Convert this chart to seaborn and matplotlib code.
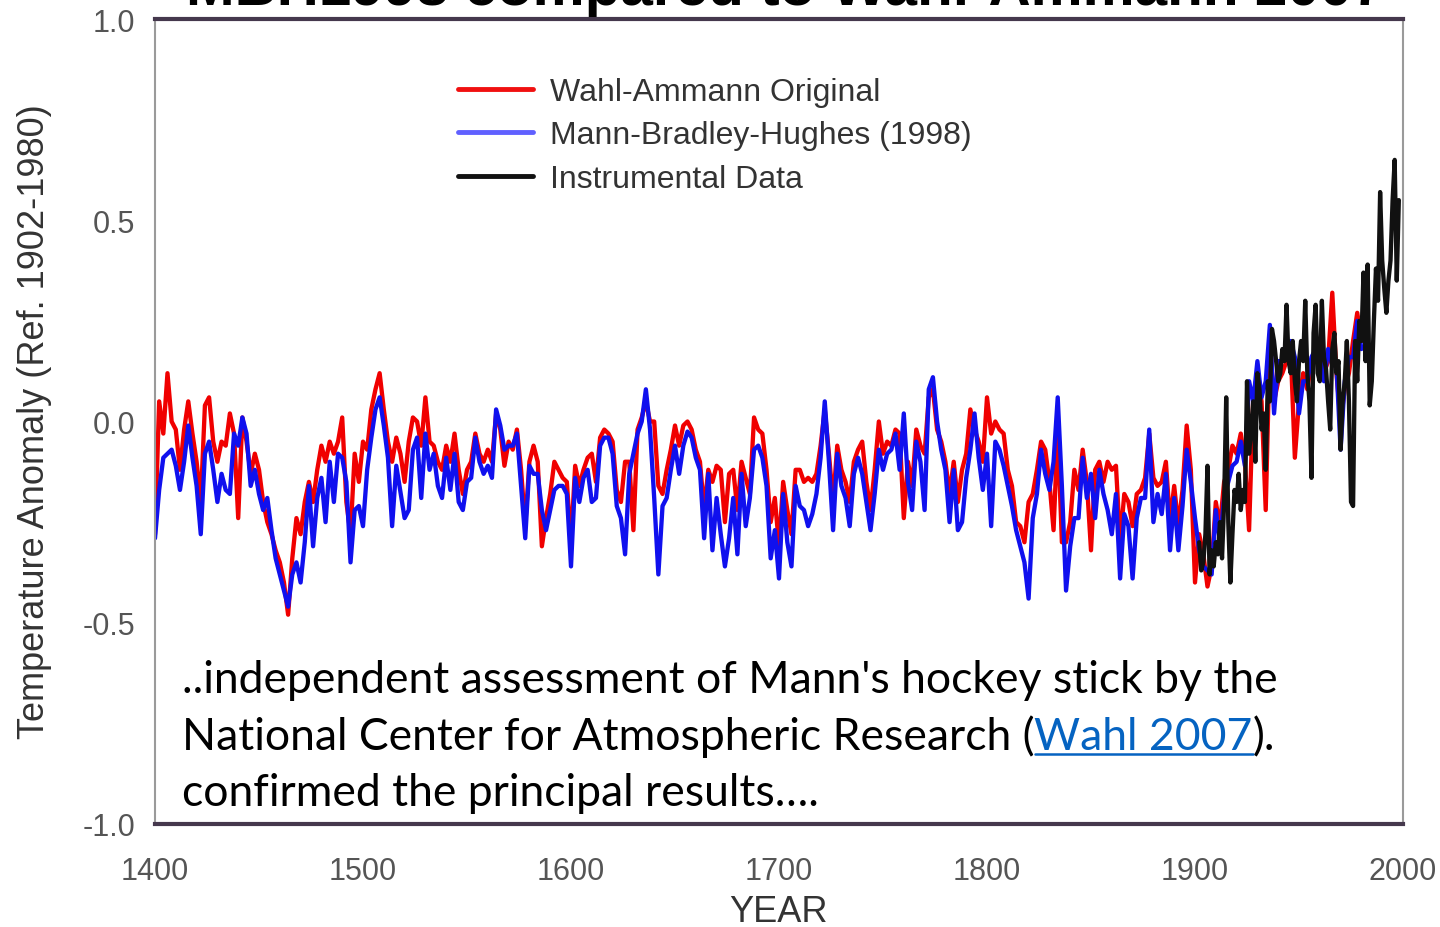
import numpy as np
import pandas as pd
import matplotlib
matplotlib.use("Agg")
import matplotlib.pyplot as plt
import seaborn as sns
from matplotlib.lines import Line2D

# ---------------- data ----------------
years_recon = list(range(1400, 1981, 2))

mbh98 = [
    -0.29, -0.17, -0.09, -0.08, -0.07, -0.11, -0.17, -0.10, -0.01, -0.09,
    -0.16, -0.28, -0.08, -0.05, -0.12, -0.20, -0.13, -0.17, -0.18, -0.03,
    -0.06, 0.01, -0.03, -0.16, -0.12, -0.18, -0.22, -0.19, -0.27, -0.34,
    -0.38, -0.42, -0.46, -0.38, -0.35, -0.40, -0.30, -0.16, -0.31, -0.19,
    -0.14, -0.25, -0.10, -0.20, -0.08, -0.09, -0.15, -0.35, -0.22, -0.21,
    -0.26, -0.12, -0.04, 0.03, 0.06, -0.01, -0.09, -0.26, -0.11, -0.175,
    -0.24, -0.22, -0.07, -0.04, -0.19, -0.03, -0.12, -0.08, -0.16, -0.19,
    -0.09, -0.17, -0.08, -0.20, -0.22, -0.15, -0.14, -0.04, -0.10, -0.13,
    -0.11, -0.14, 0.03, -0.01, -0.07, -0.06, -0.06, -0.03, -0.16, -0.29,
    -0.11, -0.13, -0.13, -0.22, -0.27, -0.22, -0.17, -0.16, -0.16, -0.18,
    -0.36, -0.14, -0.20, -0.14, -0.12, -0.20, -0.19, -0.06, -0.04, -0.04,
    -0.08, -0.21, -0.24, -0.33, -0.13, -0.08, -0.03, 0.00, 0.08, -0.02,
    -0.19, -0.38, -0.21, -0.19, -0.12, -0.06, -0.13, -0.06, -0.025, -0.04,
    -0.09, -0.12, -0.29, -0.13, -0.32, -0.19, -0.28, -0.36, -0.29, -0.19,
    -0.33, -0.13, -0.26, -0.19, -0.07, -0.06, -0.09, -0.16, -0.34, -0.27,
    -0.39, -0.18, -0.30, -0.36, -0.16, -0.21, -0.22, -0.26, -0.23, -0.18,
    -0.09, 0.05, -0.10, -0.27, -0.08, -0.16, -0.19, -0.26, -0.13, -0.09,
    -0.13, -0.20, -0.27, -0.18, -0.07, -0.12, -0.08, -0.07, -0.03, -0.12,
    0.02, -0.15, -0.22, -0.05, -0.10, -0.22, 0.08, 0.11, 0.00, -0.07,
    -0.12, -0.25, -0.12, -0.27, -0.25, -0.14, -0.07, 0.02, -0.09, -0.17,
    -0.08, -0.26, -0.05, -0.07, -0.11, -0.16, -0.21, -0.27, -0.31, -0.35,
    -0.44, -0.24, -0.18, -0.07, -0.13, -0.17, -0.10, 0.06, -0.16, -0.42,
    -0.31, -0.24, -0.24, -0.09, -0.19, -0.13, -0.24, -0.12, -0.18, -0.22,
    -0.28, -0.18, -0.39, -0.23, -0.26, -0.39, -0.24, -0.19, -0.19, -0.02,
    -0.25, -0.18, -0.23, -0.13, -0.32, -0.19, -0.32, -0.21, -0.07, -0.15,
    -0.24, -0.32, -0.36, -0.37, -0.38, -0.22, -0.30, -0.19, -0.15, -0.11,
    -0.10, -0.05, -0.11, 0.10, 0.05, 0.15, 0.06, 0.10, 0.24, 0.02,
    0.15, 0.15, 0.18, 0.20, 0.16, 0.02, 0.10, 0.10, 0.16, 0.18,
    0.18, 0.10, 0.18, 0.14, 0.14, -0.07, 0.10, 0.16, 0.16, 0.25,
    0.18,
]

wahl_ammann = [
    -0.28, 0.05, -0.03, 0.12, 0.00, -0.02, -0.12, -0.02, 0.05, -0.03,
    -0.10, -0.20, 0.04, 0.06, -0.05, -0.10, -0.05, -0.06, 0.02, -0.03,
    -0.24, 0.01, -0.05, -0.13, -0.08, -0.12, -0.20, -0.25, -0.28, -0.32,
    -0.35, -0.40, -0.48, -0.34, -0.24, -0.28, -0.20, -0.15, -0.20, -0.12,
    -0.06, -0.10, -0.05, -0.08, -0.05, 0.01, -0.20, -0.28, -0.08, -0.15,
    -0.05, -0.07, 0.03, 0.08, 0.12, 0.03, -0.05, -0.10, -0.04, -0.08,
    -0.15, -0.05, 0.01, 0.00, -0.06, 0.06, -0.05, -0.06, -0.10, -0.12,
    -0.06, -0.10, -0.03, -0.12, -0.18, -0.12, -0.10, -0.03, -0.08, -0.10,
    -0.07, -0.10, 0.02, -0.02, -0.11, -0.05, -0.07, -0.02, -0.12, -0.26,
    -0.10, -0.06, -0.10, -0.31, -0.24, -0.18, -0.10, -0.12, -0.14, -0.15,
    -0.30, -0.11, -0.16, -0.12, -0.09, -0.08, -0.15, -0.04, -0.02, -0.03,
    -0.05, -0.17, -0.20, -0.10, -0.10, -0.27, -0.02, 0.01, 0.05, 0.00,
    0.00, -0.16, -0.18, -0.12, -0.07, -0.01, -0.06, -0.01, 0.00, -0.02,
    -0.07, -0.10, -0.22, -0.12, -0.15, -0.11, -0.12, -0.25, -0.13, -0.12,
    -0.22, -0.10, -0.14, -0.18, 0.01, -0.02, -0.03, -0.12, -0.25, -0.19,
    -0.31, -0.15, -0.22, -0.28, -0.12, -0.12, -0.15, -0.14, -0.15, -0.13,
    -0.06, 0.03, -0.08, -0.20, -0.06, -0.12, -0.15, -0.20, -0.10, -0.07,
    -0.05, -0.15, -0.22, -0.12, 0.00, -0.08, -0.05, -0.06, -0.02, -0.03,
    -0.24, -0.10, -0.16, -0.02, -0.06, -0.08, 0.06, 0.08, -0.02, -0.05,
    -0.10, -0.18, -0.10, -0.20, -0.12, -0.08, 0.03, -0.02, -0.05, -0.10,
    0.06, -0.03, 0.00, -0.02, -0.03, -0.12, -0.16, -0.25, -0.26, -0.30,
    -0.20, -0.18, -0.12, -0.05, -0.07, -0.15, -0.27, -0.02, -0.30, -0.30,
    -0.25, -0.12, -0.17, -0.07, -0.15, -0.32, -0.12, -0.10, -0.15, -0.10,
    -0.12, -0.11, -0.30, -0.18, -0.20, -0.26, -0.18, -0.17, -0.14, -0.03,
    -0.14, -0.16, -0.15, -0.10, -0.25, -0.16, -0.26, -0.17, -0.01, -0.12,
    -0.40, -0.28, -0.33, -0.41, -0.36, -0.20, -0.26, -0.15, -0.12, -0.06,
    -0.08, -0.03, -0.10, -0.27, 0.06, 0.12, 0.05, -0.22, 0.20, 0.05,
    0.10, 0.12, 0.15, 0.18, -0.09, 0.05, 0.12, 0.08, 0.15, 0.17,
    0.16, 0.12, 0.15, 0.32, 0.12, 0.00, 0.08, 0.12, 0.20, 0.27,
    0.20,
]

years_instr = list(range(1902, 1999))
instrumental = [
    -0.30, -0.37, -0.35, -0.28, -0.11, -0.38, -0.32, -0.36, -0.30, -0.33,
    -0.25, -0.34, -0.20, 0.06, -0.25, -0.40, -0.28, -0.17, -0.20, -0.13,
    -0.22, -0.17, -0.20, 0.10, -0.08, -0.02, 0.05, -0.10, 0.12, 0.08,
    -0.02, 0.02, -0.12, 0.10, 0.05, 0.23, 0.20, 0.15, 0.10, 0.12,
    0.18, 0.15, 0.29, 0.15, 0.12, 0.20, 0.10, 0.05, 0.15, 0.20,
    0.15, 0.30, 0.12, 0.05, -0.14, 0.22, 0.29, 0.12, 0.10, 0.30,
    0.16, 0.13, 0.05, -0.02, 0.18, 0.22, 0.12, 0.15, -0.07, 0.05,
    0.10, 0.20, 0.05, -0.20, -0.21, 0.20, 0.10, 0.25, 0.20, 0.37,
    0.15, 0.39, 0.04, 0.10, 0.25, 0.38, 0.30, 0.57, 0.40, 0.33,
    0.27, 0.35, 0.40, 0.55, 0.65, 0.35, 0.55,
]

series_labels = ["Wahl-Ammann Original", "Mann-Bradley-Hughes (1998)", "Instrumental Data"]
x_ticks = [1400, 1500, 1600, 1700, 1800, 1900, 2000]
y_ticks = [-1.0, -0.5, 0.0, 0.5, 1.0]

# ---------------- figure ----------------
sns.set_style("white")
plt.rcParams['font.family'] = ['Liberation Sans', 'DejaVu Sans']

W, H = 1440, 928
fig = plt.figure(figsize=(W / 100, H / 100), dpi=100)
ax = fig.add_axes([155 / W, 1 - 825 / H, (1403 - 155) / W, (825 - 20) / H])

df_w = pd.DataFrame({"year": years_recon, "anom": wahl_ammann})
df_m = pd.DataFrame({"year": years_recon, "anom": mbh98})
df_i = pd.DataFrame({"year": years_instr, "anom": instrumental})

sns.lineplot(data=df_w, x="year", y="anom", color="#f00000", linewidth=3.1, ax=ax, legend=False)
sns.lineplot(data=df_m, x="year", y="anom", color="#1010ee", linewidth=3.1, ax=ax, legend=False)
sns.lineplot(data=df_i, x="year", y="anom", color="#111111", linewidth=3.1, ax=ax, legend=False)

ax.set_xlim(1400, 2000)
ax.set_ylim(-1.0, 1.0)
ax.set_xticks(x_ticks)
ax.set_xticklabels([str(t) for t in x_ticks])
ax.set_yticks(y_ticks)
ax.set_yticklabels([f"{t:.1f}" for t in y_ticks])
ax.set_xlabel("")
ax.set_ylabel("")

for side in ["top", "bottom"]:
    ax.spines[side].set_color("#45384d")
    ax.spines[side].set_linewidth(3)
for side in ["left", "right"]:
    ax.spines[side].set_color("#9a9a9a")
    ax.spines[side].set_linewidth(1.5)

ax.tick_params(axis="both", direction="out", length=6, width=1.5, color="#333333",
               labelsize=22, labelcolor="#555555")
ax.tick_params(axis="y", pad=8)
ax.tick_params(axis="x", pad=17)

handles = [Line2D([0], [0], color="#f01010", lw=3.5),
           Line2D([0], [0], color="#6060ff", lw=3.5),
           Line2D([0], [0], color="#111111", lw=3.5)]
leg = ax.legend(handles, series_labels, loc="upper left", bbox_to_anchor=(0.243, 0.928),
                frameon=False, fontsize=23, handlelength=2.35, handletextpad=0.53,
                labelspacing=0.42, borderaxespad=0, borderpad=0)
for t in leg.get_texts():
    t.set_color("#333333")

# axis labels / title
fig.text(35 / W, 1 - 422 / H, "Temperature Anomaly (Ref. 1902-1980)", rotation=90,
         ha="center", va="center", fontsize=26, color="#333333")
fig.text(778 / W, 1 - 913 / H, "YEAR", ha="center", va="center", fontsize=26, color="#333333")
fig.text(785 / W, 1 - 5 / H, "MBH1998 compared to Wahl-Ammann 2007", ha="center",
         va="baseline", fontsize=42, fontweight="bold", color="black")

# annotation text
afont = ["Lato", "DejaVu Sans"]
asize = 32
x0 = 182 / W
fig.text(x0, 1 - 693 / H, "..independent assessment of Mann's hockey stick by the",
         family=afont, fontsize=asize, color="black", va="baseline")
t1 = fig.text(x0, 1 - 750 / H, "National Center for Atmospheric Research (",
              family=afont, fontsize=asize, color="black", va="baseline")
fig.text(x0, 1 - 806 / H, "confirmed the principal results\u2026.",
         family=afont, fontsize=asize, color="black", va="baseline")

fig.canvas.draw()
r = fig.canvas.get_renderer()
bb1 = t1.get_window_extent(r)
t2 = fig.text(bb1.x1 / W, 1 - 750 / H, "Wahl 2007", family=afont, fontsize=asize,
              color="#0563c1", va="baseline")
fig.canvas.draw()
bb2 = t2.get_window_extent(r)
fig.text(bb2.x1 / W, 1 - 750 / H, ").", family=afont, fontsize=asize, color="black",
         va="baseline")
uy = 1 - 755 / H
fig.add_artist(Line2D([bb2.x0 / W, bb2.x1 / W], [uy, uy], color="#0563c1", lw=1.8))

fig.savefig("out.png", dpi=100)
